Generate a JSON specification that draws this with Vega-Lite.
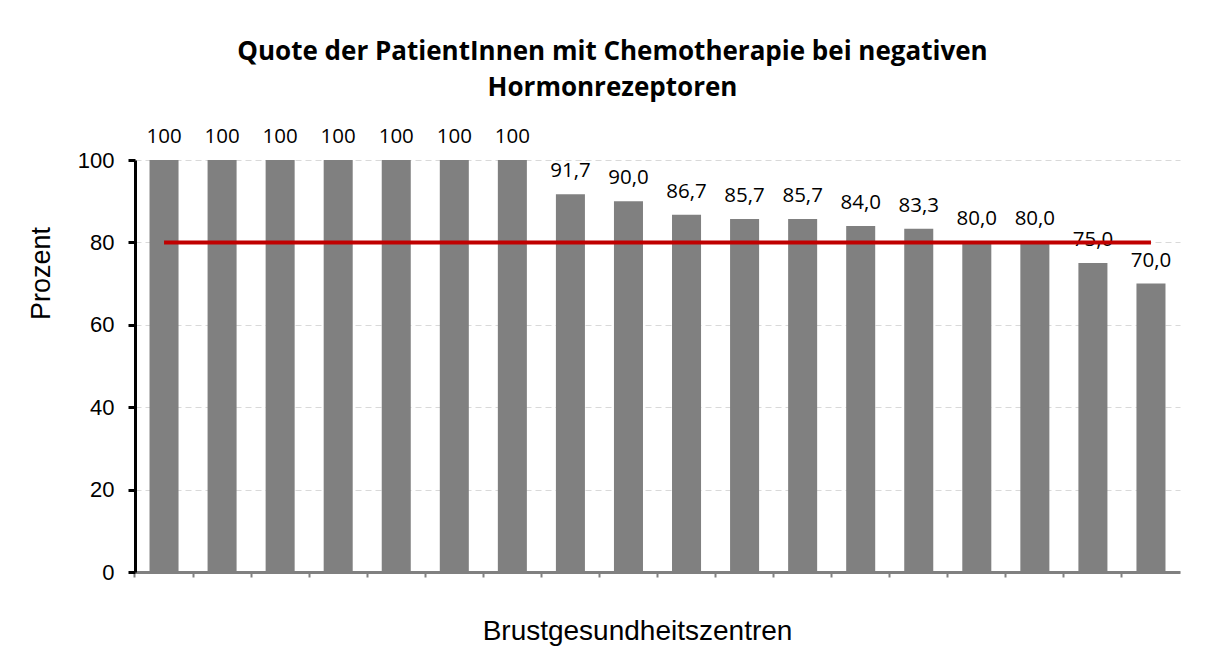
{
  "$schema": "https://vega.github.io/schema/vega-lite/v6.json",
  "autosize": {"type": "none"},
  "width": 1045,
  "height": 412,
  "padding": {"left": 135, "top": 160, "right": 42, "bottom": 83},
  "background": "white",
  "title": {
    "text": ["Quote der PatientInnen mit Chemotherapie bei negativen", "Hormonrezeptoren"],
    "font": "Open Sans",
    "fontWeight": "bold",
    "fontSize": 26,
    "lineHeight": 36,
    "color": "black",
    "anchor": "middle",
    "frame": "group",
    "dx": -45,
    "offset": 26
  },
  "data": {
    "values": [
      {"zentrum": "1", "wert": 100, "label": "100"},
      {"zentrum": "2", "wert": 100, "label": "100"},
      {"zentrum": "3", "wert": 100, "label": "100"},
      {"zentrum": "4", "wert": 100, "label": "100"},
      {"zentrum": "5", "wert": 100, "label": "100"},
      {"zentrum": "6", "wert": 100, "label": "100"},
      {"zentrum": "7", "wert": 100, "label": "100"},
      {"zentrum": "8", "wert": 91.7, "label": "91,7"},
      {"zentrum": "9", "wert": 90.0, "label": "90,0"},
      {"zentrum": "10", "wert": 86.7, "label": "86,7"},
      {"zentrum": "11", "wert": 85.7, "label": "85,7"},
      {"zentrum": "12", "wert": 85.7, "label": "85,7"},
      {"zentrum": "13", "wert": 84.0, "label": "84,0"},
      {"zentrum": "14", "wert": 83.3, "label": "83,3"},
      {"zentrum": "15", "wert": 80.0, "label": "80,0"},
      {"zentrum": "16", "wert": 80.0, "label": "80,0"},
      {"zentrum": "17", "wert": 75.0, "label": "75,0"},
      {"zentrum": "18", "wert": 70.0, "label": "70,0"}
    ]
  },
  "encoding": {
    "x": {
      "field": "zentrum",
      "type": "nominal",
      "sort": null,
      "scale": {"paddingInner": 0.5, "paddingOuter": 0.25},
      "axis": {
        "title": "Brustgesundheitszentren",
        "titleFont": "Liberation Sans",
        "titleFontSize": 28,
        "titleFontWeight": "normal",
        "titleColor": "black",
        "titlePadding": 39,
        "titleX": 502,
        "labels": false,
        "domainColor": "#808080",
        "domainWidth": 3,
        "tickColor": "#808080",
        "tickWidth": 2,
        "tickSize": 5,
        "bandPosition": -0.5,
        "grid": false
      }
    }
  },
  "layer": [
    {
      "mark": {"type": "bar", "color": "#808080"},
      "encoding": {
        "y": {
          "field": "wert",
          "type": "quantitative",
          "scale": {"domain": [0, 100], "nice": false},
          "axis": {
            "title": "Prozent",
            "titleFont": "Liberation Sans",
            "titleFontSize": 27,
            "titleFontWeight": "normal",
            "titleColor": "black",
            "titlePadding": 22,
            "titleY": 113,
            "values": [0, 20, 40, 60, 80, 100],
            "labelFont": "Liberation Sans",
            "labelFontSize": 22,
            "labelColor": "black",
            "labelPadding": 14,
            "domainColor": "black",
            "domainWidth": 3,
            "tickColor": "black",
            "tickWidth": 3,
            "tickSize": 7,
            "grid": true,
            "gridColor": "#d9d9d9",
            "gridWidth": 1,
            "gridDash": [6, 4]
          }
        }
      }
    },
    {
      "mark": {"type": "text", "font": "Open Sans", "fontSize": 20.5, "color": "black", "baseline": "alphabetic", "dy": -17},
      "encoding": {
        "y": {"field": "wert", "type": "quantitative"},
        "text": {"field": "label", "type": "nominal"}
      }
    },
    {
      "data": {"values": [{"von": "1", "bis": "18", "ziel": 80}]},
      "mark": {"type": "rule", "color": "#C00000", "strokeWidth": 4},
      "encoding": {
        "x": {"field": "von", "type": "nominal"},
        "x2": {"field": "bis"},
        "y": {"field": "ziel", "type": "quantitative"}
      }
    }
  ],
  "config": {"view": {"stroke": null}}
}
